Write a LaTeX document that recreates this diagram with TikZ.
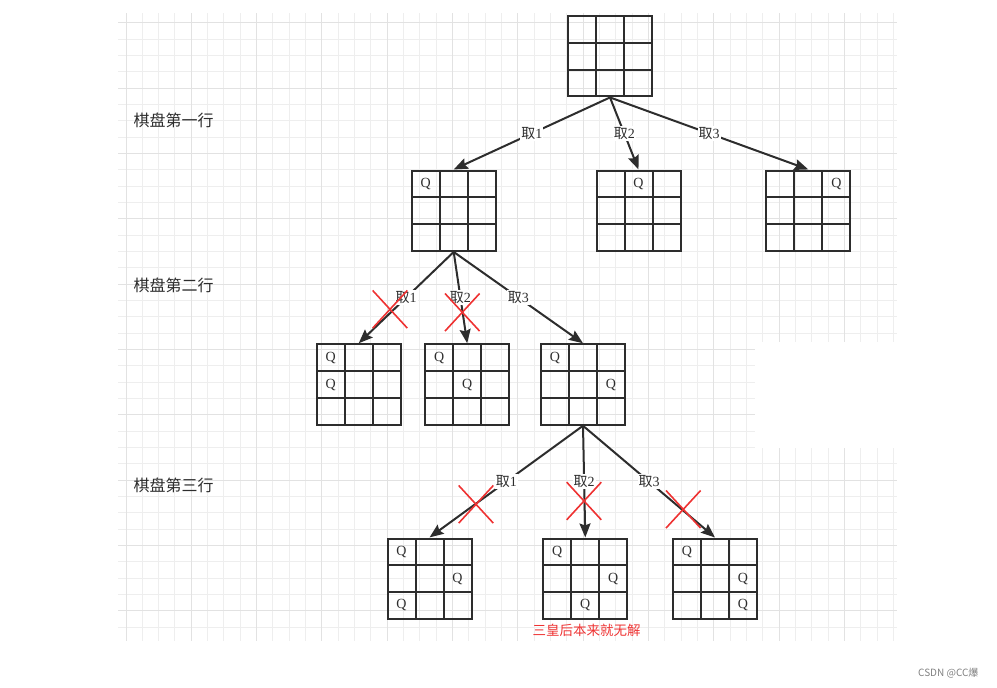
\documentclass[tikz,border=0pt]{standalone}
\usepackage{fontspec}
\setmainfont{Liberation Serif}
\newfontfamily\cjk{Noto Sans CJK SC}
\usetikzlibrary{matrix}
\usetikzlibrary{arrows.meta}
\usetikzlibrary{shapes.misc}
\definecolor{ink}{RGB}{45,45,45}
\definecolor{gridminor}{RGB}{238,238,238}
\definecolor{gridmajor}{RGB}{226,226,226}
\definecolor{wrong}{RGB}{238,50,50}

\tikzset{
  board/.style={matrix of nodes, nodes in empty cells, inner sep=0pt,
    column sep=-2pt, row sep=-2pt,
    nodes={draw=ink, line width=2pt, minimum width=28pt, minimum height=26.7pt,
      anchor=center, inner sep=0pt, font=\fontsize{14}{14}\selectfont, text=ink}},
  arr/.style={draw=ink, line width=2pt, -{Stealth[length=14pt,width=11pt,inset=2pt]}},
  lab/.style={fill=white, inner sep=1pt, font=\fontsize{14}{14}\selectfont, text=ink},
  xmark/.style={cross out, draw=wrong, line width=1.6pt, minimum width=33pt,
    minimum height=36pt, inner sep=0pt},
  rowlabel/.style={anchor=west, font=\cjk\fontsize{16}{16}\selectfont, text=ink}
}

\begin{document}
\begin{tikzpicture}[x=1pt,y=-1pt]
\useasboundingbox (0,0) rectangle (997,688);

% background grid
\foreach \k in {0,...,47}
  \draw[gridminor, line width=1pt] ({126+16.33*\k},13) -- ({126+16.33*\k},641);
\foreach \j in {0,...,37}
  \draw[gridminor, line width=1pt] (118,{22.8+16.33*\j}) -- (897,{22.8+16.33*\j});
\foreach \k in {0,4,...,44}
  \draw[gridmajor, line width=1pt] ({126+16.33*\k},13) -- ({126+16.33*\k},641);
\foreach \j in {0,4,...,36}
  \draw[gridmajor, line width=1pt] (118,{22.8+16.33*\j}) -- (897,{22.8+16.33*\j});
\fill[white] (755,341.7) rectangle (997,447.7);

% row labels
\node[rowlabel] (row1) at (130,120) {棋盘第一行};
\node[rowlabel] (row2) at (130,285) {棋盘第二行};
\node[rowlabel] (row3) at (130,485) {棋盘第三行};

% boards
\matrix[board] (T) at (610,56.2) { & & \\ & & \\ & & \\ };

\matrix[board] (A) at (453.7,210.7) { Q & & \\ & & \\ & & \\ };
\matrix[board] (B) at (638.5,210.7) { & Q & \\ & & \\ & & \\ };
\matrix[board] (C) at (808.3,210.7) { & & Q \\ & & \\ & & \\ };

\matrix[board] (D) at (358.7,384.5) { Q & & \\ Q & & \\ & & \\ };
\matrix[board] (E) at (467.2,384.5) { Q & & \\ & Q & \\ & & \\ };
\matrix[board] (F) at (583,384.5) { Q & & \\ & & Q \\ & & \\ };

\matrix[board] (G) at (429.5,578.7) { Q & & \\ & & Q \\ Q & & \\ };
\matrix[board] (H) at (585.3,578.7) { Q & & \\ & & Q \\ & Q & \\ };
\matrix[board] (I) at (715,578.7) { Q & & \\ & & Q \\ & & Q \\ };

% choices
\draw[arr] (T.south) -- node[lab] {{\cjk 取}1} (A.north);
\draw[arr] (T.south) -- node[lab] {{\cjk 取}2} (B.north);
\draw[arr] (T.south) -- node[lab] {{\cjk 取}3} (C.north);

\draw[arr] (A.south) -- node[lab] {{\cjk 取}1} (D.north);
\draw[arr] (A.south) -- node[lab] {{\cjk 取}2} (E.north);
\draw[arr] (A.south) -- node[lab] {{\cjk 取}3} (F.north);

\draw[arr] (F.south) -- node[lab] {{\cjk 取}1} (G.north);
\draw[arr] (F.south) -- node[lab] {{\cjk 取}2} (H.north);
\draw[arr] (F.south) -- node[lab] {{\cjk 取}3} (I.north);

% ruled out
\node[xmark] (x1) at (390,309.3) {};
\node[xmark] (x2) at (462.3,312.3) {};
\node[xmark] (x3) at (476,504.3) {};
\node[xmark] (x4) at (584,501) {};
\node[xmark] (x5) at (683.3,509.3) {};

\node[font=\cjk\fontsize{13.5}{13.5}\selectfont, text=wrong] (note) at (586.7,630.7) {三皇后本来就无解};
\node[anchor=east, font=\cjk\fontsize{10}{10}\selectfont, text=gray] (mark) at (982,673) {CSDN @CC爆};
\end{tikzpicture}
\end{document}
